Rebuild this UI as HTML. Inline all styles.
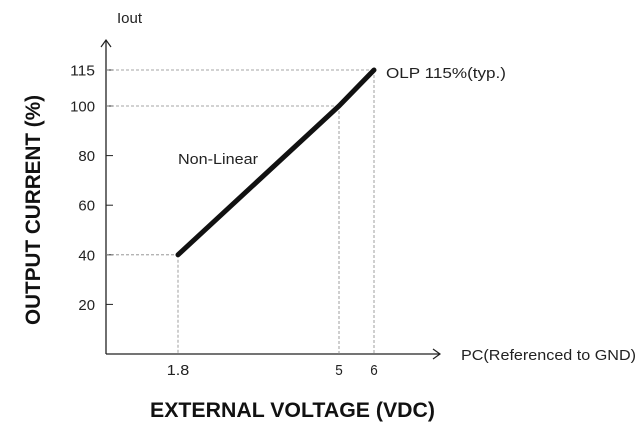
<!DOCTYPE html>
<html><head><meta charset="utf-8"><style>
body{margin:0;background:#fff;width:640px;height:430px;overflow:hidden}
svg{font-family:"Liberation Sans",sans-serif}
</style></head><body>
<svg id="c" width="640" height="430">
<g id="g"></g>
</svg>
<script>
const xVals=[1.8,5,6];
const yVals=[40,100,115];
const yTicks=[20,40,60,80,100,115];
const xTicks=[1.8,5,6];
function pw(d,r,v){for(let i=0;i<d.length-1;i++){if(v<=d[i+1]||i==d.length-2){return r[i]+(v-d[i])/(d[i+1]-d[i])*(r[i+1]-r[i]);}}}
const xs=v=>pw([0,1.8,5,6],[106,178,339,374],v);
const ys=v=>pw([0,100,115],[354,106,70],v);
const g=document.getElementById('g');const NS='http://www.w3.org/2000/svg';
function el(t,a,txt){const e=document.createElementNS(NS,t);for(const k in a)e.setAttribute(k,a[k]);if(txt!=null)e.textContent=txt;g.appendChild(e);return e;}
let e;
e=el('line',{x1:106,y1:354,x2:106,y2:40,stroke:'#222','stroke-width':1.3});


e=el('path',{d:'M101,47 L106,40 L111,47',fill:'none',stroke:'#222','stroke-width':1.2});


e=el('line',{x1:106,y1:354,x2:440,y2:354,stroke:'#222','stroke-width':1.3});


e=el('path',{d:'M433,349 L440,354 L433,359',fill:'none',stroke:'#222','stroke-width':1.2});


yTicks.forEach(t=>{const y=ys(t);
e=el('line',{x1:106,y1:y,x2:113,y2:y,stroke:'#222','stroke-width':1});


e=el('text',{x:95,y:y+5.5,'text-anchor':'end','font-size':15,fill:'#222',textLength:String(t).length*8.3,lengthAdjust:'spacingAndGlyphs'},t);

});
xTicks.forEach(t=>{const x=xs(t);
e=el('text',{x:x,y:375,'text-anchor':'middle','font-size':15,fill:'#222',textLength:String(t).length*7.5,lengthAdjust:'spacingAndGlyphs'},t);

});
xVals.forEach((v,i)=>{const x=xs(v),y=ys(yVals[i]);
e=el('line',{x1:106,y1:y,x2:x,y2:y,stroke:'#888','stroke-width':0.8,'stroke-dasharray':'3,2'});


e=el('line',{x1:x,y1:y,x2:x,y2:354,stroke:'#888','stroke-width':0.8,'stroke-dasharray':'3,2'});

});
e=el('polyline',{points:xVals.map((v,i)=>xs(v)+','+ys(yVals[i])).join(' '),fill:'none',stroke:'#111','stroke-width':5,'stroke-linecap':'round'});


e=el('text',{x:117,y:23,'font-size':15,fill:'#222'},'Iout');


e=el('text',{x:386,y:78,'font-size':15,fill:'#222',textLength:120,lengthAdjust:'spacingAndGlyphs'},'OLP  115%(typ.)');


e=el('text',{x:178,y:164,'font-size':15,fill:'#222',textLength:80,lengthAdjust:'spacingAndGlyphs'},'Non-Linear');


e=el('text',{x:461,y:360,'font-size':15,fill:'#222',textLength:175,lengthAdjust:'spacingAndGlyphs'},'PC(Referenced to GND)');


e=el('text',{x:150,y:417,'font-size':21,'font-weight':'bold',fill:'#111',textLength:285,lengthAdjust:'spacingAndGlyphs'},'EXTERNAL VOLTAGE (VDC)');


e=el('text',{x:0,y:0,'text-anchor':'middle','font-size':21,'font-weight':'bold',fill:'#111',transform:'translate(40,210) rotate(-90)',textLength:230,lengthAdjust:'spacingAndGlyphs'},'OUTPUT CURRENT (%)');


</script>
</body></html>
